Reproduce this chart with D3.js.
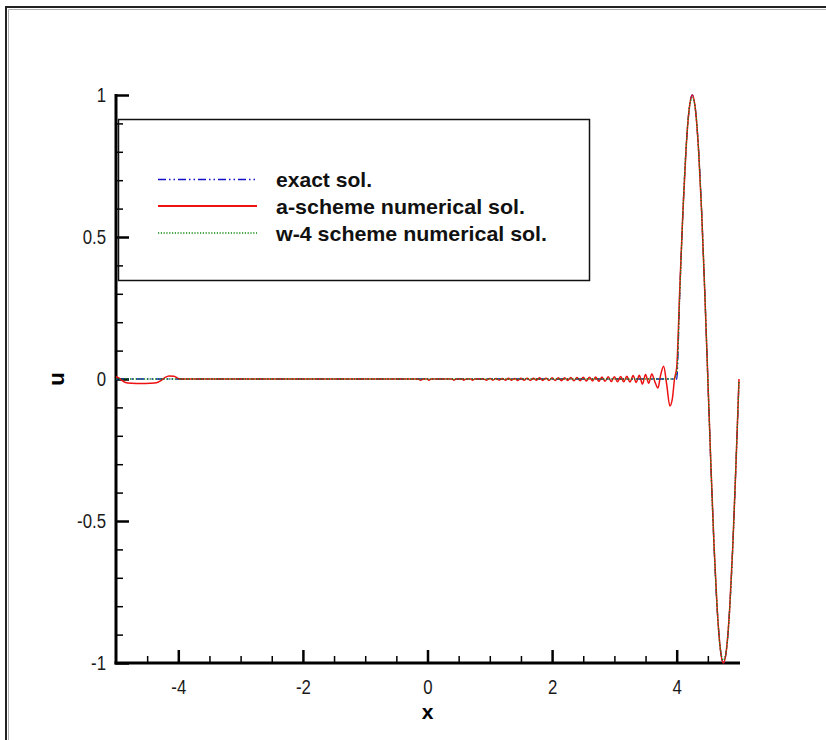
<!DOCTYPE html>
<html>
<head>
<meta charset="utf-8">
<script src="https://cdn.jsdelivr.net/npm/d3@7/dist/d3.min.js"></script>
<style>
  html, body { margin: 0; padding: 0; background: #fff; }
  svg { display: block; }
  .tick text { font-family: "Liberation Sans", Arial, sans-serif; font-size: 21px; fill: #1a1a1a; }
</style>
</head>
<body>
<svg id="chart" width="826" height="740"></svg>
<script>
// ---- data -------------------------------------------------------------
const seriesNames = ["exact sol.", "a-scheme numerical sol.", "w-4 scheme numerical sol."];

const xTicksMajor = [-4, -2, 0, 2, 4];
const xTicksMinor = [-4.5, -3.5, -3, -2.5, -1.5, -1, -0.5, 0.5, 1, 1.5, 2.5, 3, 3.5, 4.5];
const yTicksMajor = [-1, -0.5, 0, 0.5, 1];
const yTicksMinor = [-0.9, -0.8, -0.7, -0.6, -0.4, -0.3, -0.2, -0.1, 0.1, 0.2, 0.3, 0.4, 0.6, 0.7, 0.8, 0.9];

// exact solution: flat, then one full wave on [4, 5]
const exactX = [-5, 4.00, 4.05, 4.10, 4.15, 4.20, 4.25, 4.30, 4.35, 4.40, 4.45, 4.50,
                4.55, 4.60, 4.65, 4.70, 4.75, 4.80, 4.85, 4.90, 4.95, 5.00];
const exactU = [0, 0.00, 0.31, 0.59, 0.81, 0.95, 1.00, 0.95, 0.81, 0.59, 0.31, 0.00,
                -0.31, -0.59, -0.81, -0.95, -1.00, -0.95, -0.81, -0.59, -0.31, 0.00];

// a-scheme: wiggles trailing the wave and a small disturbance near the left boundary
const aX = [-5.00, -4.95, -4.90, -4.85, -4.75, -4.60, -4.45, -4.35, -4.28, -4.22, -4.15, -4.07, -4.00, -3.95,
            -0.15, -0.11, -0.07, 0.00, 0.02, 0.06, 0.40, 0.42, 0.46, 0.56, 0.58, 0.62, 0.70, 0.72, 0.76, 0.90,
            0.95, 1.00, 1.05, 1.10, 1.15, 1.20, 1.25, 1.30, 1.35, 1.40, 1.45, 1.50, 1.55, 1.60, 1.65, 1.70,
            1.75, 1.80, 1.85, 1.90, 1.95, 2.00, 2.05, 2.10, 2.15, 2.20, 2.25, 2.30, 2.35, 2.40, 2.45, 2.50,
            2.55, 2.60, 2.65, 2.70, 2.75, 2.80, 2.85, 2.90, 2.95, 3.00, 3.05, 3.10, 3.15, 3.20, 3.25, 3.30,
            3.35, 3.40, 3.45, 3.50, 3.55, 3.60, 3.65, 3.70, 3.74, 3.79, 3.84, 3.89, 3.93, 3.965,
            4.00, 4.05, 4.10, 4.15, 4.20, 4.25, 4.30, 4.35, 4.40, 4.45, 4.50,
            4.55, 4.60, 4.65, 4.70, 4.75, 4.80, 4.85, 4.90, 4.95, 5.00];
const aU = [0.008, 0.003, -0.006, -0.012, -0.015, -0.016, -0.015, -0.013, -0.006, 0.004, 0.011, 0.010, 0.002, 0.000,
            0.000, -0.004, 0.000, 0.000, -0.004, 0.000, 0.000, -0.004, 0.000, 0.000, -0.004, 0.000, 0.000, -0.004, 0.000, 0.000,
            -0.004, 0.002, -0.004, 0.002, -0.004, 0.002, -0.004, 0.003, -0.004, 0.002, -0.005, 0.003, -0.004, 0.003, -0.005, 0.003,
            -0.004, 0.004, -0.005, 0.003, -0.005, 0.004, -0.005, 0.004, -0.006, 0.004, -0.005, 0.005, -0.006, 0.005, -0.006, 0.006,
            -0.007, 0.006, -0.007, 0.007, -0.008, 0.007, -0.008, 0.008, -0.009, 0.008, -0.010, 0.009, -0.010, 0.010, -0.011, 0.012,
            -0.012, 0.013, -0.018, 0.016, -0.015, 0.018, -0.010, -0.032, 0.012, 0.045, -0.020, -0.095, -0.070, 0.000,
            0.04, 0.32, 0.59, 0.81, 0.95, 1.00, 0.95, 0.81, 0.59, 0.31, 0.00,
            -0.31, -0.59, -0.81, -0.95, -1.00, -0.95, -0.81, -0.59, -0.31, 0.00];

// w-4 scheme: follows the exact solution with a slightly rounded foot
const wX = [-5, 3.95, 4.00, 4.05, 4.10, 4.15, 4.20, 4.25, 4.30, 4.35, 4.40, 4.45, 4.50,
            4.55, 4.60, 4.65, 4.70, 4.75, 4.80, 4.85, 4.90, 4.95, 5.00];
const wU = [0, 0.00, 0.02, 0.30, 0.59, 0.81, 0.95, 0.99, 0.95, 0.81, 0.59, 0.31, 0.00,
            -0.31, -0.59, -0.81, -0.95, -0.99, -0.95, -0.81, -0.59, -0.30, -0.01];

// ---- drawing ----------------------------------------------------------
const svg = d3.select("#chart");
const x = d3.scaleLinear().domain([-5, 5]).range([116, 739]);
const y = d3.scaleLinear().domain([-1, 1]).range([663, 95]);

// page frame
svg.append("path").attr("d", "M6,740V7H826").attr("fill", "none").attr("stroke", "#222").attr("stroke-width", 2);
svg.append("path").attr("d", "M8.5,740V9.5H826").attr("fill", "none").attr("stroke", "#b0b0b0").attr("stroke-width", 1);

// axes: ticks point into the plot
const fmt = d => String(d);
const yMajor = d3.axisLeft(y).tickValues(yTicksMajor).tickSize(-13).tickPadding(0).tickFormat(fmt);
const yMinor = d3.axisLeft(y).tickValues(yTicksMinor).tickSize(-7).tickFormat("");
const xMajor = d3.axisBottom(x).tickValues(xTicksMajor).tickSize(-13).tickPadding(16).tickFormat(fmt);
const xMinor = d3.axisBottom(x).tickValues(xTicksMinor).tickSize(-7).tickFormat("");

function styleAxis(g, w) {
  g.select(".domain").remove();
  g.selectAll(".tick line").attr("stroke", "#000").attr("stroke-width", w);
}
svg.append("g").attr("transform", "translate(116,0)").call(yMinor).call(g => styleAxis(g, 1.5));
svg.append("g").attr("transform", "translate(116,0)").call(yMajor).call(g => styleAxis(g, 2.5))
  .call(g => g.selectAll(".tick text").attr("x", 0).attr("transform", "translate(-10,0) scale(0.8,1)"));
svg.append("g").attr("transform", "translate(0,663)").call(xMinor).call(g => styleAxis(g, 1.5));
svg.append("g").attr("transform", "translate(0,663)").call(xMajor).call(g => styleAxis(g, 2.5))
  .call(g => g.selectAll(".tick text").attr("y", 0).attr("transform", "translate(0,16) scale(0.8,1)"));

svg.append("line").attr("x1", x(-5)).attr("x2", x(-5)).attr("y1", y(1) - 1).attr("y2", y(-1) + 1.5)
  .attr("stroke", "#000").attr("stroke-width", 3);
svg.append("line").attr("x1", x(-5) - 1.5).attr("x2", x(5) + 1).attr("y1", y(-1)).attr("y2", y(-1))
  .attr("stroke", "#000").attr("stroke-width", 3);

// axis titles
svg.append("text").attr("x", x(0)).attr("y", 718.5).attr("text-anchor", "middle")
  .attr("font-family", "Liberation Sans, Arial, sans-serif").attr("font-weight", "bold").attr("font-size", 21)
  .text("x");
svg.append("text").attr("transform", `translate(64,${y(0)}) rotate(-90)`).attr("text-anchor", "middle")
  .attr("font-family", "Liberation Sans, Arial, sans-serif").attr("font-weight", "bold").attr("font-size", 22)
  .text("u");

// curves
const line = d3.line().x(d => x(d[0])).y(d => y(d[1])).curve(d3.curveMonotoneX);
const zip = (xs, us) => xs.map((v, i) => [v, us[i]]);

const styles = [
  { color: "#1010c8", width: 1.3, dash: "8,3,1.5,3,1.5,3" },
  { color: "#ee1111", width: 1.5, dash: null },
  { color: "#0a8a0a", width: 1.3, dash: "1.2,1.6" }
];
const series = [zip(exactX, exactU), zip(aX, aU), zip(wX, wU)];

series.forEach((s, i) => {
  svg.append("path").datum(s).attr("d", line).attr("fill", "none")
    .attr("stroke", styles[i].color).attr("stroke-width", styles[i].width)
    .attr("stroke-dasharray", styles[i].dash);
});

// legend
svg.append("rect").attr("x", 118.5).attr("y", 119.5).attr("width", 471).attr("height", 161)
  .attr("fill", "none").attr("stroke", "#111").attr("stroke-width", 1.5);
const legendRows = [179.5, 206, 233];
const legendWidths = [96, 249, 271];
seriesNames.forEach((name, i) => {
  svg.append("line").attr("x1", 158).attr("x2", 257).attr("y1", legendRows[i]).attr("y2", legendRows[i])
    .attr("stroke", styles[i].color).attr("stroke-width", i === 1 ? 2 : 1.5)
    .attr("stroke-dasharray", styles[i].dash);
  svg.append("text").attr("x", 276).attr("y", legendRows[i] + 7.5)
    .attr("font-family", "Liberation Sans, Arial, sans-serif").attr("font-weight", "bold").attr("font-size", 21)
    .attr("textLength", legendWidths[i]).attr("lengthAdjust", "spacingAndGlyphs")
    .attr("fill", "#111").text(name);
});
</script>
</body>
</html>
